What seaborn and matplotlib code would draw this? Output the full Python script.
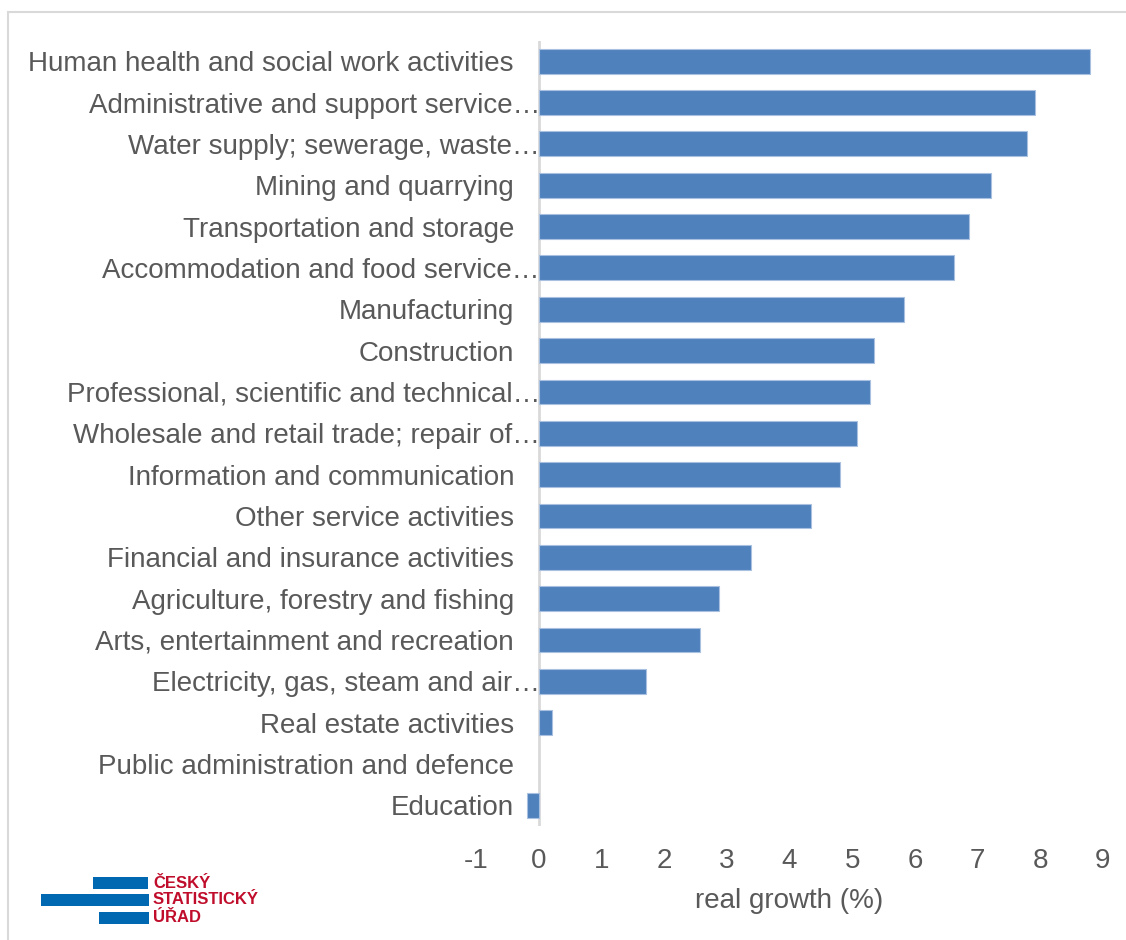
import matplotlib
matplotlib.use("Agg")
import matplotlib.pyplot as plt
import matplotlib.transforms as mtransforms
from matplotlib.patches import Rectangle
import pandas as pd
import seaborn as sns

# Data
sectors = [
    "Human health and social work activities",
    "Administrative and support service\u2026",
    "Water supply; sewerage, waste\u2026",
    "Mining and quarrying",
    "Transportation and storage",
    "Accommodation and food service\u2026",
    "Manufacturing",
    "Construction",
    "Professional, scientific and technical\u2026",
    "Wholesale and retail trade; repair of\u2026",
    "Information and communication",
    "Other service activities",
    "Financial and insurance activities",
    "Agriculture, forestry and fishing",
    "Arts, entertainment and recreation",
    "Electricity, gas, steam and air\u2026",
    "Real estate activities",
    "Public administration and defence",
    "Education",
]
growth = [8.79, 7.91, 7.79, 7.21, 6.87, 6.63, 5.82, 5.34, 5.28, 5.07,
          4.80, 4.35, 3.38, 2.87, 2.58, 1.71, 0.21, 0.0, -0.19]
x_ticks = [-1, 0, 1, 2, 3, 4, 5, 6, 7, 8, 9]

df = pd.DataFrame({"sector": sectors, "growth": growth})

sns.set_style("white")
plt.rcParams["font.family"] = ["Liberation Sans", "DejaVu Sans"]

text_color = "#595959"
bar_color = "#4f81bd"
fs = 20

fig = plt.figure(figsize=(11.26, 9.40), dpi=100)
ax = fig.add_axes([476 / 1126, 1 - 826 / 940, 627 / 1126, 785.5 / 940])

sns.barplot(data=df, x="growth", y="sector", orient="h", color=bar_color,
            saturation=1, width=0.6, edgecolor="#a9c0e0", linewidth=0.8, ax=ax)
for p in ax.patches:
    if abs(p.get_width()) < 1e-9:
        p.set_visible(False)

ax.set_xlim(-1, 9)
ax.set_xticks(x_ticks)
ax.set_xticklabels([str(t) for t in x_ticks])
ax.axvline(0, color="#d9d9d9", linewidth=2, zorder=0)

for s in ax.spines.values():
    s.set_visible(False)

ax.tick_params(axis="y", length=0, pad=0, labelsize=fs, labelcolor=text_color)
ax.tick_params(axis="x", length=0, pad=16, labelsize=fs, labelcolor=text_color)
ax.set_ylabel("")
ax.set_xlabel("real growth (%)", fontsize=fs, color=text_color, labelpad=10)

# category labels sit left of the zero line; truncated ones reach up to it
base = mtransforms.ScaledTranslation(38 / 100, 0, fig.dpi_scale_trans)
extra = mtransforms.ScaledTranslation(64 / 100, 0, fig.dpi_scale_trans)
for lab in ax.get_yticklabels():
    if lab.get_text().endswith("\u2026"):
        lab.set_transform(lab.get_transform() + extra)
    else:
        lab.set_transform(lab.get_transform() + base)

# light chart border
fig.patches.append(Rectangle((8 / 1126, -0.05), 1.1, 1 - 12 / 940 + 0.05,
                             transform=fig.transFigure, fill=False,
                             edgecolor="#d9d9d9", linewidth=1.5))

# CZSO logo
logo_blue = "#0067b1"
logo_red = "#c00d2b"
for x0, x1, y0 in [(93, 148, 877), (41, 149, 894), (99, 149, 912)]:
    fig.patches.append(Rectangle((x0 / 1126, 1 - (y0 + 12) / 940), (x1 - x0) / 1126,
                                 12 / 940, transform=fig.transFigure,
                                 color=logo_blue, linewidth=0))
for txt, yc in [("ČESKÝ", 883), ("STATISTICKÝ", 900), ("ÚŘAD", 918)]:
    fig.text(153 / 1126, 1 - yc / 940, txt, color=logo_red, fontsize=12,
             fontweight="bold", va="center", ha="left",
             family=["Liberation Sans Narrow", "Liberation Sans", "DejaVu Sans"])

fig.savefig("out.png", dpi=100)
